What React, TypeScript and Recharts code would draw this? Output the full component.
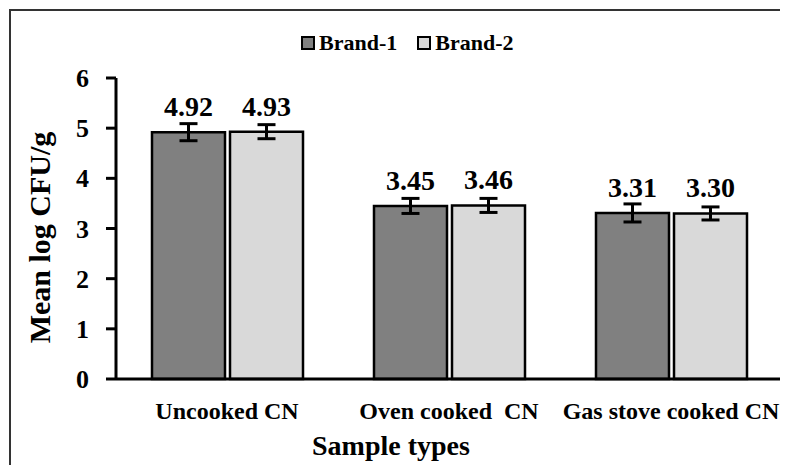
import React from 'react';
import { BarChart, Bar, XAxis, YAxis, ErrorBar, LabelList, Legend, Label } from 'recharts';

const categories = ['Uncooked CN', 'Oven cooked  CN', 'Gas stove cooked CN'];
const brand1 = [4.92, 3.45, 3.31];
const brand2 = [4.93, 3.46, 3.3];
const brand1Err = [0.17, 0.15, 0.18];
const brand2Err = [0.14, 0.14, 0.13];
const yTicks = [0, 1, 2, 3, 4, 5, 6];
const seriesNames = ['Brand-1', 'Brand-2'];
const seriesColors = ['#808080', '#d9d9d9'];

const data = categories.map((name, i) => ({
  name,
  b1: brand1[i],
  b2: brand2[i],
  e1: brand1Err[i],
  e2: brand2Err[i],
}));

const FONT = '"Liberation Serif", "Times New Roman", serif';

const XTick = (props: any) => {
  const { x, y, payload } = props;
  return (
    <text
      x={x}
      y={y + 32}
      textAnchor="middle"
      fontFamily={FONT}
      fontWeight="bold"
      fontSize={24}
      fill="#000"
      style={{ whiteSpace: 'pre' }}
    >
      {payload.value}
    </text>
  );
};

const YTick = (props: any) => {
  const { x, y, payload } = props;
  return (
    <text
      x={x}
      y={y + 9}
      textAnchor="end"
      fontFamily={FONT}
      fontWeight="bold"
      fontSize={26}
      fill="#000"
    >
      {payload.value}
    </text>
  );
};

const LegendContent = (props: any) => {
  const { payload } = props;
  return (
    <div style={{ display: 'flex', alignItems: 'center', fontFamily: FONT, fontWeight: 'bold', fontSize: 22, color: '#000', lineHeight: '24px' }}>
      {(payload || []).map((p: any, i: number) => (
        <div key={i} style={{ display: 'flex', alignItems: 'center', marginRight: i === 0 ? 20 : 0 }}>
          <span
            style={{
              display: 'inline-block',
              width: 10,
              height: 10,
              border: '2.5px solid #000',
              background: p.color,
              marginRight: 4,
            }}
          />
          <span>{p.value}</span>
        </div>
      ))}
    </div>
  );
};

const fmt = (v: any) => Number(v).toFixed(2);

const labelStyle = { fontFamily: FONT, fontWeight: 'bold' as const, fontSize: 28, fill: '#000' };

export default function App() {
  return (
    <div style={{ position: 'relative', width: 788, height: 473, margin: -8, background: '#fff', overflow: 'hidden' }}>
      <div
        style={{
          position: 'absolute',
          left: 9,
          top: 9,
          width: 790,
          height: 480,
          borderTop: '2px solid #333',
          borderLeft: '2px solid #333',
        }}
      />
      <BarChart
        width={788}
        height={473}
        data={data}
        margin={{ top: 78, right: 6, bottom: 0, left: 0 }}
        barCategoryGap={36}
        barGap={5}
      >
        <XAxis
          dataKey="name"
          height={94}
          interval={0}
          axisLine={{ stroke: '#000', strokeWidth: 3 }}
          tickLine={false}
          tick={<XTick />}
        >
          <Label
            content={(p: any) => {
              const vb = p.viewBox;
              return (
                <text
                  x={391}
                  y={vb.y + 76}
                  textAnchor="middle"
                  fontFamily={FONT}
                  fontWeight="bold"
                  fontSize={28}
                  fill="#000"
                >
                  Sample types
                </text>
              );
            }}
          />
        </XAxis>
        <YAxis
          domain={[0, 6]}
          ticks={yTicks}
          interval={0}
          width={116}
          axisLine={{ stroke: '#000', strokeWidth: 3 }}
          tickLine={{ stroke: '#000', strokeWidth: 3 }}
          tickSize={10}
          tickMargin={17}
          tick={<YTick />}
        >
          <Label
            content={(p: any) => {
              const vb = p.viewBox;
              const cx = 39;
              const cy = vb.y + vb.height / 2 + 9;
              return (
                <text
                  x={cx}
                  y={cy}
                  transform={`rotate(-90 ${cx} ${cy})`}
                  textAnchor="middle"
                  dominantBaseline="central"
                  fontFamily={FONT}
                  fontWeight="bold"
                  fontSize={30}
                  fill="#000"
                >
                  Mean log CFU/g
                </text>
              );
            }}
          />
        </YAxis>
        <Legend
          layout="horizontal"
          verticalAlign="middle"
          align="center"
          wrapperStyle={{ top: 31, left: 301, width: 260, height: 24 }}
          content={<LegendContent />}
        />
        <Bar dataKey="b1" name={seriesNames[0]} fill={seriesColors[0]} stroke="#000" strokeWidth={2.5} isAnimationActive={false}>
          <ErrorBar dataKey="e1" width={9} strokeWidth={3} stroke="#000" direction="y" />
          <LabelList dataKey="b1" position="top" offset={16} formatter={fmt} style={labelStyle} />
        </Bar>
        <Bar dataKey="b2" name={seriesNames[1]} fill={seriesColors[1]} stroke="#000" strokeWidth={2.5} isAnimationActive={false}>
          <ErrorBar dataKey="e2" width={9} strokeWidth={3} stroke="#000" direction="y" />
          <LabelList dataKey="b2" position="top" offset={16} formatter={fmt} style={labelStyle} />
        </Bar>
      </BarChart>
    </div>
  );
}
